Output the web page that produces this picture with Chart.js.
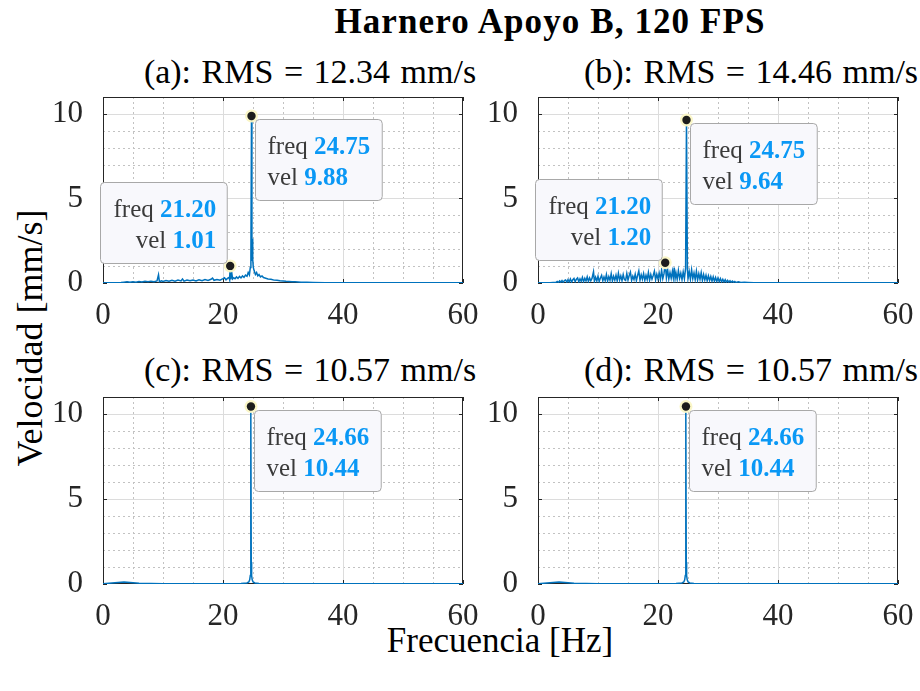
<!DOCTYPE html>
<html>
<head>
<meta charset="utf-8">
<script src="https://cdn.jsdelivr.net/npm/chart.js@4.4.0/dist/chart.umd.min.js"></script>
<style>
  html, body { margin: 0; padding: 0; background: #fff; }
  #fig { position: relative; width: 920px; height: 691px; overflow: hidden; background: #fff;
         font-family: "Liberation Serif", "Times New Roman", serif; color: #000; }
  .txt { position: absolute; white-space: nowrap; line-height: 1; }
  .ctr { transform: translateX(-50%); }
  canvas { position: absolute; }
</style>
</head>
<body>
<div id="fig">
  <div class="txt ctr" id="suptitle" style="left:550px; top:4px; font-size:35px; font-weight:bold; letter-spacing:1.1px;"></div>
  <div class="txt ctr" id="t-a" style="left:310px; top:55px; font-size:34px; word-spacing:2px;"></div>
  <div class="txt ctr" id="t-b" style="left:751px; top:55px; font-size:34px; word-spacing:2px;"></div>
  <div class="txt ctr" id="t-c" style="left:310px; top:353px; font-size:34px; word-spacing:2px;"></div>
  <div class="txt ctr" id="t-d" style="left:751px; top:353px; font-size:34px; word-spacing:2px;"></div>
  <div class="txt" id="ylab" style="left:30px; top:338px; font-size:36px; transform:translate(-50%,-50%) rotate(-90deg);"></div>
  <div class="txt ctr" id="xlab" style="left:500px; top:623px; font-size:35px;"></div>
</div>
<script>
// ---- text ----
const figTitle = 'Harnero Apoyo B, 120 FPS';
const panelTitles = ['(a): RMS = 12.34 mm/s', '(b): RMS = 14.46 mm/s',
                     '(c): RMS = 10.57 mm/s', '(d): RMS = 10.57 mm/s'];
const xLabel = 'Frecuencia [Hz]';
const yLabel = 'Velocidad [mm/s]';

// ---- axes ----
const xTicks = [0, 20, 40, 60];
const xMinor = [5, 10, 15, 25, 30, 35, 45, 50, 55];
const yTicks = [0, 5, 10];
const yMinor = [1, 2, 3, 4, 6, 7, 8, 9];
const xRange = [0, 60];
const yRange = [0, 11];

// ---- spectra: [frequency Hz, velocity mm/s] ----
const specA = [[0,0.01],[1,0.02],[2,0.02],[3,0.03],[3.5,0.05],[4,0.07],[4.5,0.04],[5,0.08],[5.5,0.05],[6,0.09],
  [6.5,0.06],[7,0.1],[7.5,0.07],[8,0.11],[8.5,0.08],[9,0.12],[9.25,0.48],[9.4,0.08],[9.75,0.13],[10,0.09],
  [10.5,0.15],[11,0.1],[11.5,0.16],[12,0.11],[12.5,0.17],[13,0.12],[13.25,0.24],[13.5,0.11],[14,0.17],[14.5,0.13],
  [15,0.18],[15.5,0.12],[16,0.19],[16.5,0.14],[17,0.21],[17.5,0.15],[18,0.22],[18.25,0.29],[18.5,0.16],[19,0.21],
  [19.5,0.17],[20,0.26],[20.25,0.31],[20.5,0.19],[20.75,0.27],[21,0.33],[21.1,0.2],[21.3,0.22],[21.45,0.62],[21.6,0.24],
  [21.8,0.31],[22,0.25],[22.25,0.36],[22.5,0.27],[22.75,0.39],[23,0.3],[23.25,0.42],[23.5,0.33],[23.75,0.47],[24,0.4],
  [24.2,0.62],[24.4,0.48],[24.55,0.92],[24.65,1.6],[24.82,1.3],[24.88,2.62],[24.95,1.4],[25.05,0.92],[25.2,0.72],[25.4,0.5],
  [25.6,0.62],[25.8,0.42],[26,0.5],[26.25,0.36],[26.5,0.42],[26.75,0.32],[27,0.3],[27.5,0.24],[28,0.22],[28.5,0.17],
  [29,0.16],[29.5,0.13],[30,0.12],[30.5,0.1],[31,0.09],[31.5,0.08],[32,0.07],[33,0.05],[34,0.04],[35,0.03],
  [37,0.02],[40,0.02],[45,0.01],[50,0.01],[55,0.01],[60,0.01]];
const peaksA = [[21.20, 1.01], [24.75, 9.88]];

const specB = [[0,0.01],[1,0.01],[2,0.02],[3.0,0.04],[3.2,0.09],[3.4,0.03],[3.6,0.12],[3.8,0.05],[4.0,0.15],[4.2,0.04],
  [4.4,0.14],[4.6,0.18],[4.8,0.05],[5.0,0.2],[5.2,0.07],[5.4,0.24],[5.6,0.06],[5.8,0.19],[6.0,0.27],[6.2,0.08],
  [6.4,0.22],[6.6,0.3],[6.8,0.07],[7.0,0.25],[7.2,0.1],[7.4,0.33],[7.6,0.08],[7.8,0.28],[8.0,0.12],[8.2,0.36],
  [8.4,0.09],[8.6,0.3],[8.8,0.13],[9.0,0.27],[9.25,0.66],[9.4,0.1],[9.6,0.34],[9.8,0.12],[10.0,0.4],[10.2,0.09],
  [10.4,0.3],[10.6,0.45],[10.8,0.13],[11.0,0.36],[11.2,0.14],[11.4,0.5],[11.6,0.11],[11.8,0.38],[12.0,0.16],[12.2,0.55],
  [12.4,0.12],[12.6,0.4],[12.8,0.17],[13.0,0.46],[13.2,0.13],[13.4,0.58],[13.6,0.18],[13.8,0.42],[14.0,0.14],[14.2,0.5],
  [14.4,0.2],[14.6,0.15],[14.8,0.56],[15.0,0.17],[15.2,0.44],[15.4,0.64],[15.6,0.15],[15.8,0.4],[16.0,0.2],[16.2,0.52],
  [16.4,0.14],[16.6,0.45],[16.8,0.72],[17.0,0.17],[17.2,0.48],[17.4,0.22],[17.6,0.55],[17.8,0.15],[18.0,0.46],[18.2,0.2],
  [18.4,0.62],[18.6,0.17],[18.8,0.5],[19.0,0.23],[19.2,0.44],[19.4,0.7],[19.6,0.18],[19.8,0.52],[20.0,0.24],[20.2,0.58],
  [20.4,0.2],[20.6,0.76],[20.8,0.26],[21.0,0.55],[21.4,0.3],[21.6,0.8],[21.8,0.24],[22.0,0.62],[22.2,0.28],[22.4,0.7],
  [22.55,0.32],[22.7,0.92],[22.85,0.26],[23.0,0.6],[23.2,0.22],[23.4,0.74],[23.6,0.28],[23.8,0.58],[24.0,0.2],[24.2,0.66],
  [24.4,0.25],[24.6,0.88],[24.9,0.8],[25.0,0.27],[25.2,0.68],[25.4,0.22],[25.6,0.78],[25.8,0.26],[26.0,0.6],[26.2,0.2],
  [26.4,0.7],[26.6,0.18],[26.8,0.55],[27.0,0.22],[27.2,0.62],[27.4,0.15],[27.6,0.5],[27.8,0.18],[28.0,0.46],[28.2,0.13],
  [28.4,0.42],[28.6,0.15],[28.8,0.38],[29.0,0.11],[29.2,0.36],[29.4,0.1],[29.6,0.32],[29.8,0.09],[30.0,0.3],[30.2,0.08],
  [30.4,0.26],[30.6,0.07],[30.8,0.22],[31.0,0.06],[31.2,0.2],[31.4,0.05],[31.6,0.16],[31.8,0.05],[32.0,0.14],[32.2,0.04],
  [32.4,0.11],[32.6,0.04],[32.8,0.09],[33.0,0.03],[33.4,0.07],[33.8,0.03],[34.4,0.04],[35,0.03],[36,0.02],[38,0.02],
  [40,0.01],[45,0.01],[50,0.01],[55,0.01],[60,0.01]];
const peaksB = [[21.20, 1.20], [24.75, 9.64]];

const specC = [[0,0.02],[1,0.05],[2,0.08],[3,0.11],[3.5,0.12],[4,0.11],[5,0.08],[6,0.05],[8,0.03],[10,0.02],
  [15,0.02],[20,0.02],[23,0.03],[24,0.06],[24.3,0.12],[24.45,0.25],[24.55,0.5],[24.61,1.3],[24.71,1.3],[24.77,0.5],
  [24.87,0.25],[25.02,0.12],[25.3,0.06],[26,0.03],[30,0.02],[40,0.01],[50,0.01],[60,0.01]];
const peaksC = [[24.66, 10.44]];

const specD = [[0,0.02],[1,0.05],[2,0.08],[3,0.11],[3.5,0.12],[4,0.11],[5,0.08],[6,0.05],[8,0.03],[10,0.02],
  [15,0.02],[20,0.02],[23,0.03],[24,0.06],[24.3,0.12],[24.45,0.25],[24.55,0.5],[24.61,1.3],[24.71,1.3],[24.77,0.5],
  [24.87,0.25],[25.02,0.12],[25.3,0.06],[26,0.03],[30,0.02],[40,0.01],[50,0.01],[60,0.01]];
const peaksD = [[24.66, 10.44]];

// ---- layout of the four axes (plot-area pixel boxes) and data-tip placement ----
const panels = [
  { key: 'a', spec: specA, peaks: peaksA, sides: ['left', 'right'], area: { l: 103, r: 463, t: 97, b: 283 } },
  { key: 'b', spec: specB, peaks: peaksB, sides: ['left', 'right'], area: { l: 538, r: 898, t: 97, b: 283 } },
  { key: 'c', spec: specC, peaks: peaksC, sides: ['right'],         area: { l: 103, r: 463, t: 397, b: 584 } },
  { key: 'd', spec: specD, peaks: peaksD, sides: ['right'],         area: { l: 538, r: 898, t: 397, b: 584 } }
];

const LINE_BLUE = '#0072BD';
const AX_COLOR = '#262626';
const SERIF = "'Liberation Serif', 'Times New Roman', serif";

document.getElementById('suptitle').textContent = figTitle;
['a', 'b', 'c', 'd'].forEach((k, i) => document.getElementById('t-' + k).textContent = panelTitles[i]);
document.getElementById('xlab').textContent = xLabel;
document.getElementById('ylab').textContent = yLabel;

// grid, axes box and inward tick marks (drawn under the data, like MATLAB's bottom layer)
const framePlugin = {
  id: 'frame',
  beforeDatasetsDraw(chart) {
    const { ctx, chartArea: a, scales: { x, y } } = chart;
    const vline = (px) => { ctx.beginPath(); ctx.moveTo(px, a.top); ctx.lineTo(px, a.bottom); ctx.stroke(); };
    const hline = (py) => { ctx.beginPath(); ctx.moveTo(a.left, py); ctx.lineTo(a.right, py); ctx.stroke(); };
    ctx.save();
    ctx.lineWidth = 1;
    ctx.strokeStyle = '#c2c2c2';
    ctx.setLineDash([2, 3]);
    xMinor.forEach(v => vline(Math.round(x.getPixelForValue(v)) + 0.5));
    yMinor.forEach(v => hline(Math.round(y.getPixelForValue(v)) + 0.5));
    ctx.setLineDash([]);
    ctx.strokeStyle = '#dcdcdc';
    xTicks.slice(1, -1).forEach(v => vline(Math.round(x.getPixelForValue(v)) + 0.5));
    yTicks.slice(1).forEach(v => hline(Math.round(y.getPixelForValue(v)) + 0.5));
    // box
    ctx.strokeStyle = AX_COLOR;
    ctx.strokeRect(Math.round(a.left) + 0.5, Math.round(a.top) + 0.5,
                   Math.round(a.right - a.left) - 1, Math.round(a.bottom - a.top) - 1);
    // inward ticks
    const tl = 4;
    ctx.beginPath();
    xTicks.forEach(v => {
      const px = Math.round(x.getPixelForValue(v)) + 0.5;
      ctx.moveTo(px, a.bottom); ctx.lineTo(px, a.bottom - tl);
      ctx.moveTo(px, a.top); ctx.lineTo(px, a.top + tl);
    });
    yTicks.forEach(v => {
      const py = Math.round(y.getPixelForValue(v)) + 0.5;
      ctx.moveTo(a.left, py); ctx.lineTo(a.left + tl, py);
      ctx.moveTo(a.right, py); ctx.lineTo(a.right - tl, py);
    });
    ctx.stroke();
    ctx.restore();
  }
};

// data tips: marker on the peak plus a rounded label box
const tipPlugin = {
  id: 'tips',
  afterDatasetsDraw(chart, args, opts) {
    const { ctx, scales: { x, y } } = chart;
    const fs = 25, pad = 12, h = 81;
    ctx.save();
    opts.items.forEach(t => {
      const px = x.getPixelForValue(t.f), py = y.getPixelForValue(t.v);
      ctx.beginPath(); ctx.arc(px, py, 6.5, 0, Math.PI * 2);
      ctx.fillStyle = 'rgba(250,246,196,0.95)'; ctx.fill();
      ctx.beginPath(); ctx.arc(px, py, 4.2, 0, Math.PI * 2);
      ctx.fillStyle = '#1c1c1c'; ctx.fill();

      const l1a = 'freq ', l1b = t.f.toFixed(2), l2a = 'vel ', l2b = t.v.toFixed(2);
      ctx.font = fs + 'px ' + SERIF;
      const w1a = ctx.measureText(l1a).width, w2a = ctx.measureText(l2a).width;
      ctx.font = 'bold ' + fs + 'px ' + SERIF;
      const w1b = ctx.measureText(l1b).width, w2b = ctx.measureText(l2b).width;
      const w = Math.max(w1a + w1b, w2a + w2b) + 2 * pad;
      let bx, by;
      if (t.side === 'right') { bx = px + 3; by = py + 3; }
      else { bx = px - 3 - w; by = py - 3 - h; }
      bx = Math.round(bx) + 0.5; by = Math.round(by) + 0.5;
      ctx.beginPath(); ctx.roundRect(bx, by, w, h, 4);
      ctx.fillStyle = '#f8f8fc'; ctx.fill();
      ctx.lineWidth = 1; ctx.strokeStyle = '#a8a8a8'; ctx.stroke();

      const lines = [[l1a, w1a, l1b, w1b, 34], [l2a, w2a, l2b, w2b, 65]];
      ctx.textBaseline = 'alphabetic'; ctx.textAlign = 'left';
      lines.forEach(([la, wa, lb, wb, dy]) => {
        const startX = t.side === 'right' ? bx + pad : bx + w - pad + 1 - (wa + wb);
        ctx.font = fs + 'px ' + SERIF; ctx.fillStyle = '#3a3a3a';
        ctx.fillText(la, startX, by + dy);
        ctx.font = 'bold ' + fs + 'px ' + SERIF; ctx.fillStyle = '#0a98f5';
        ctx.fillText(lb, startX + wa, by + dy);
      });
    });
    ctx.restore();
  }
};

const PAD_L = 63, PAD_T = 40, PAD_R = 26, PAD_B = 52;
const tickFont = { family: SERIF, size: 31 };

function build() {
  panels.forEach(p => {
    const a = p.area;
    const cv = document.createElement('canvas');
    const w = a.r - a.l + PAD_L + PAD_R, h = a.b - a.t + PAD_T + PAD_B;
    cv.width = w; cv.height = h;
    cv.style.left = (a.l - PAD_L) + 'px'; cv.style.top = (a.t - PAD_T) + 'px';
    cv.style.width = w + 'px'; cv.style.height = h + 'px';
    document.getElementById('fig').appendChild(cv);

    const points = p.spec.concat(p.peaks).sort((u, v) => u[0] - v[0]).map(([f, v]) => ({ x: f, y: v }));
    const tips = p.peaks.map(([f, v], i) => ({ f, v, side: p.sides[i] }));

    new Chart(cv, {
      type: 'scatter',
      data: { datasets: [{ data: points, showLine: true, borderColor: LINE_BLUE, borderWidth: 1.5,
                           pointRadius: 0, tension: 0, fill: false }] },
      options: {
        responsive: false, animation: false, devicePixelRatio: 1,
        layout: { padding: { left: 0, top: PAD_T, right: PAD_R, bottom: 0 } },
        plugins: { legend: { display: false }, tooltip: { enabled: false }, tips: { items: tips } },
        scales: {
          x: {
            type: 'linear', min: xRange[0], max: xRange[1],
            grid: { display: false }, border: { display: false },
            ticks: { font: tickFont, color: AX_COLOR, padding: 6, maxRotation: 0, autoSkip: false },
            afterBuildTicks: s => { s.ticks = xTicks.map(v => ({ value: v })); },
            afterFit: s => { s.height = PAD_B; }
          },
          y: {
            type: 'linear', min: yRange[0], max: yRange[1],
            grid: { display: false }, border: { display: false },
            ticks: { font: tickFont, color: AX_COLOR, padding: 12 },
            afterBuildTicks: s => { s.ticks = yTicks.map(v => ({ value: v })); },
            afterFit: s => { s.width = PAD_L; }
          }
        }
      },
      plugins: [framePlugin, tipPlugin]
    });
  });
}

Promise.all([
  document.fonts.load("31px 'Liberation Serif'"),
  document.fonts.load("bold 25px 'Liberation Serif'")
]).catch(() => {}).then(() => document.fonts.ready).then(build);
</script>
</body>
</html>
